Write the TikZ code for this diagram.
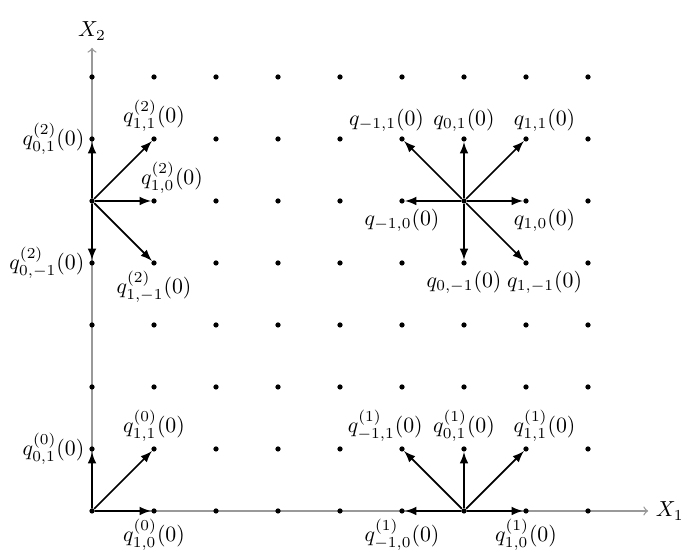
\documentclass[tikz,border=0pt]{standalone}
\usepackage{tikz}
\usetikzlibrary{arrows}
\usetikzlibrary{positioning}
\tikzset{
    arrow/.style={->,>=latex, thick},
    axis/.style={->, gray!80, semithick},
    dot/.style = {
      circle,
      fill=black,
      inner sep=0pt,
      minimum size=2.4pt
    },
}

\begin{document}
\begin{tikzpicture}
        \useasboundingbox (-1.484,-0.79) rectangle (9.742,8.242);

        % axes
        \coordinate (x1end) at (8.97,0);
        \coordinate (x2end) at (0,7.47);
        \draw[axis] (0,0) -- (x1end);
        \draw[axis] (0,0) -- (x2end);
        \node[right] (x1label) at (x1end) {$X_1$};
        \node[above] (x2label) at (x2end) {$X_2$};

        % lattice
        \foreach \x in {0,...,8}
          \foreach \y in {0,...,7}
            \node[dot] (p-\x-\y) at (\x,\y) {};

        % interior point
        \foreach \i/\j in {1/0,1/1,0/1,-1/1,-1/0,0/-1,1/-1}
          {
            \pgfmathtruncatemacro{\tx}{6+\i}
            \pgfmathtruncatemacro{\ty}{5+\j}
            \draw[arrow] (p-6-5) -- (p-\tx-\ty);
          }
        \node[above, xshift=-0.25cm] (q-m1-1) at (p-5-6) {$q_{-1,1}(0)$};
        \node[above] (q-0-1) at (p-6-6) {$q_{0,1}(0)$};
        \node[above, xshift=0.3cm] (q-1-1) at (p-7-6) {$q_{1,1}(0)$};
        \node[below] (q-m1-0) at (p-5-5) {$q_{-1,0}(0)$};
        \node[below, xshift=0.3cm] (q-1-0) at (p-7-5) {$q_{1,0}(0)$};
        \node[below] (q-0-m1) at (p-6-4) {$q_{0,-1}(0)$};
        \node[below, xshift=0.3cm] (q-1-m1) at (p-7-4) {$q_{1,-1}(0)$};

        % boundary point on X_2
        \draw[arrow] (p-0-5) -- (p-1-6);
        \draw[arrow] (p-0-5) -- (p-1-5);
        \draw[arrow] (p-0-5) -- (p-0-6);
        \draw[arrow] (p-0-5) -- (p-0-4);
        \draw[arrow] (p-0-5) -- (p-1-4);
        \node[left] (q2-0-1) at (p-0-6) {$q^{(2)}_{0,1}(0)$};
        \node[above] (q2-1-1) at (p-1-6) {$q^{(2)}_{1,1}(0)$};
        \node[above, xshift=0.29cm] (q2-1-0) at (p-1-5) {$q^{(2)}_{1,0}(0)$};
        \node[left] (q2-0-m1) at (p-0-4) {$q^{(2)}_{0,-1}(0)$};
        \node[below] (q2-1-m1) at (p-1-4) {$q^{(2)}_{1,-1}(0)$};

        % boundary point on X_1
        \draw[arrow] (p-6-0) -- (p-7-0);
        \draw[arrow] (p-6-0) -- (p-7-1);
        \draw[arrow] (p-6-0) -- (p-6-1);
        \draw[arrow] (p-6-0) -- (p-5-1);
        \draw[arrow] (p-6-0) -- (p-5-0);
        \node[above, xshift=-0.27cm] (q1-m1-1) at (p-5-1) {$q^{(1)}_{-1,1}(0)$};
        \node[above] (q1-0-1) at (p-6-1) {$q^{(1)}_{0,1}(0)$};
        \node[above, xshift=0.3cm] (q1-1-1) at (p-7-1) {$q^{(1)}_{1,1}(0)$};
        \node[below] (q1-m1-0) at (p-5-0) {$q^{(1)}_{-1,0}(0)$};
        \node[below] (q1-1-0) at (p-7-0) {$q^{(1)}_{1,0}(0)$};

        % corner
        \draw[arrow] (p-0-0) -- (p-1-0);
        \draw[arrow] (p-0-0) -- (p-1-1);
        \draw[arrow] (p-0-0) -- (p-0-1);
        \node[left] (q0-0-1) at (p-0-1) {$q^{(0)}_{0,1}(0)$};
        \node[above] (q0-1-1) at (p-1-1) {$q^{(0)}_{1,1}(0)$};
        \node[below] (q0-1-0) at (p-1-0) {$q^{(0)}_{1,0}(0)$};
      \end{tikzpicture}
\end{document}
